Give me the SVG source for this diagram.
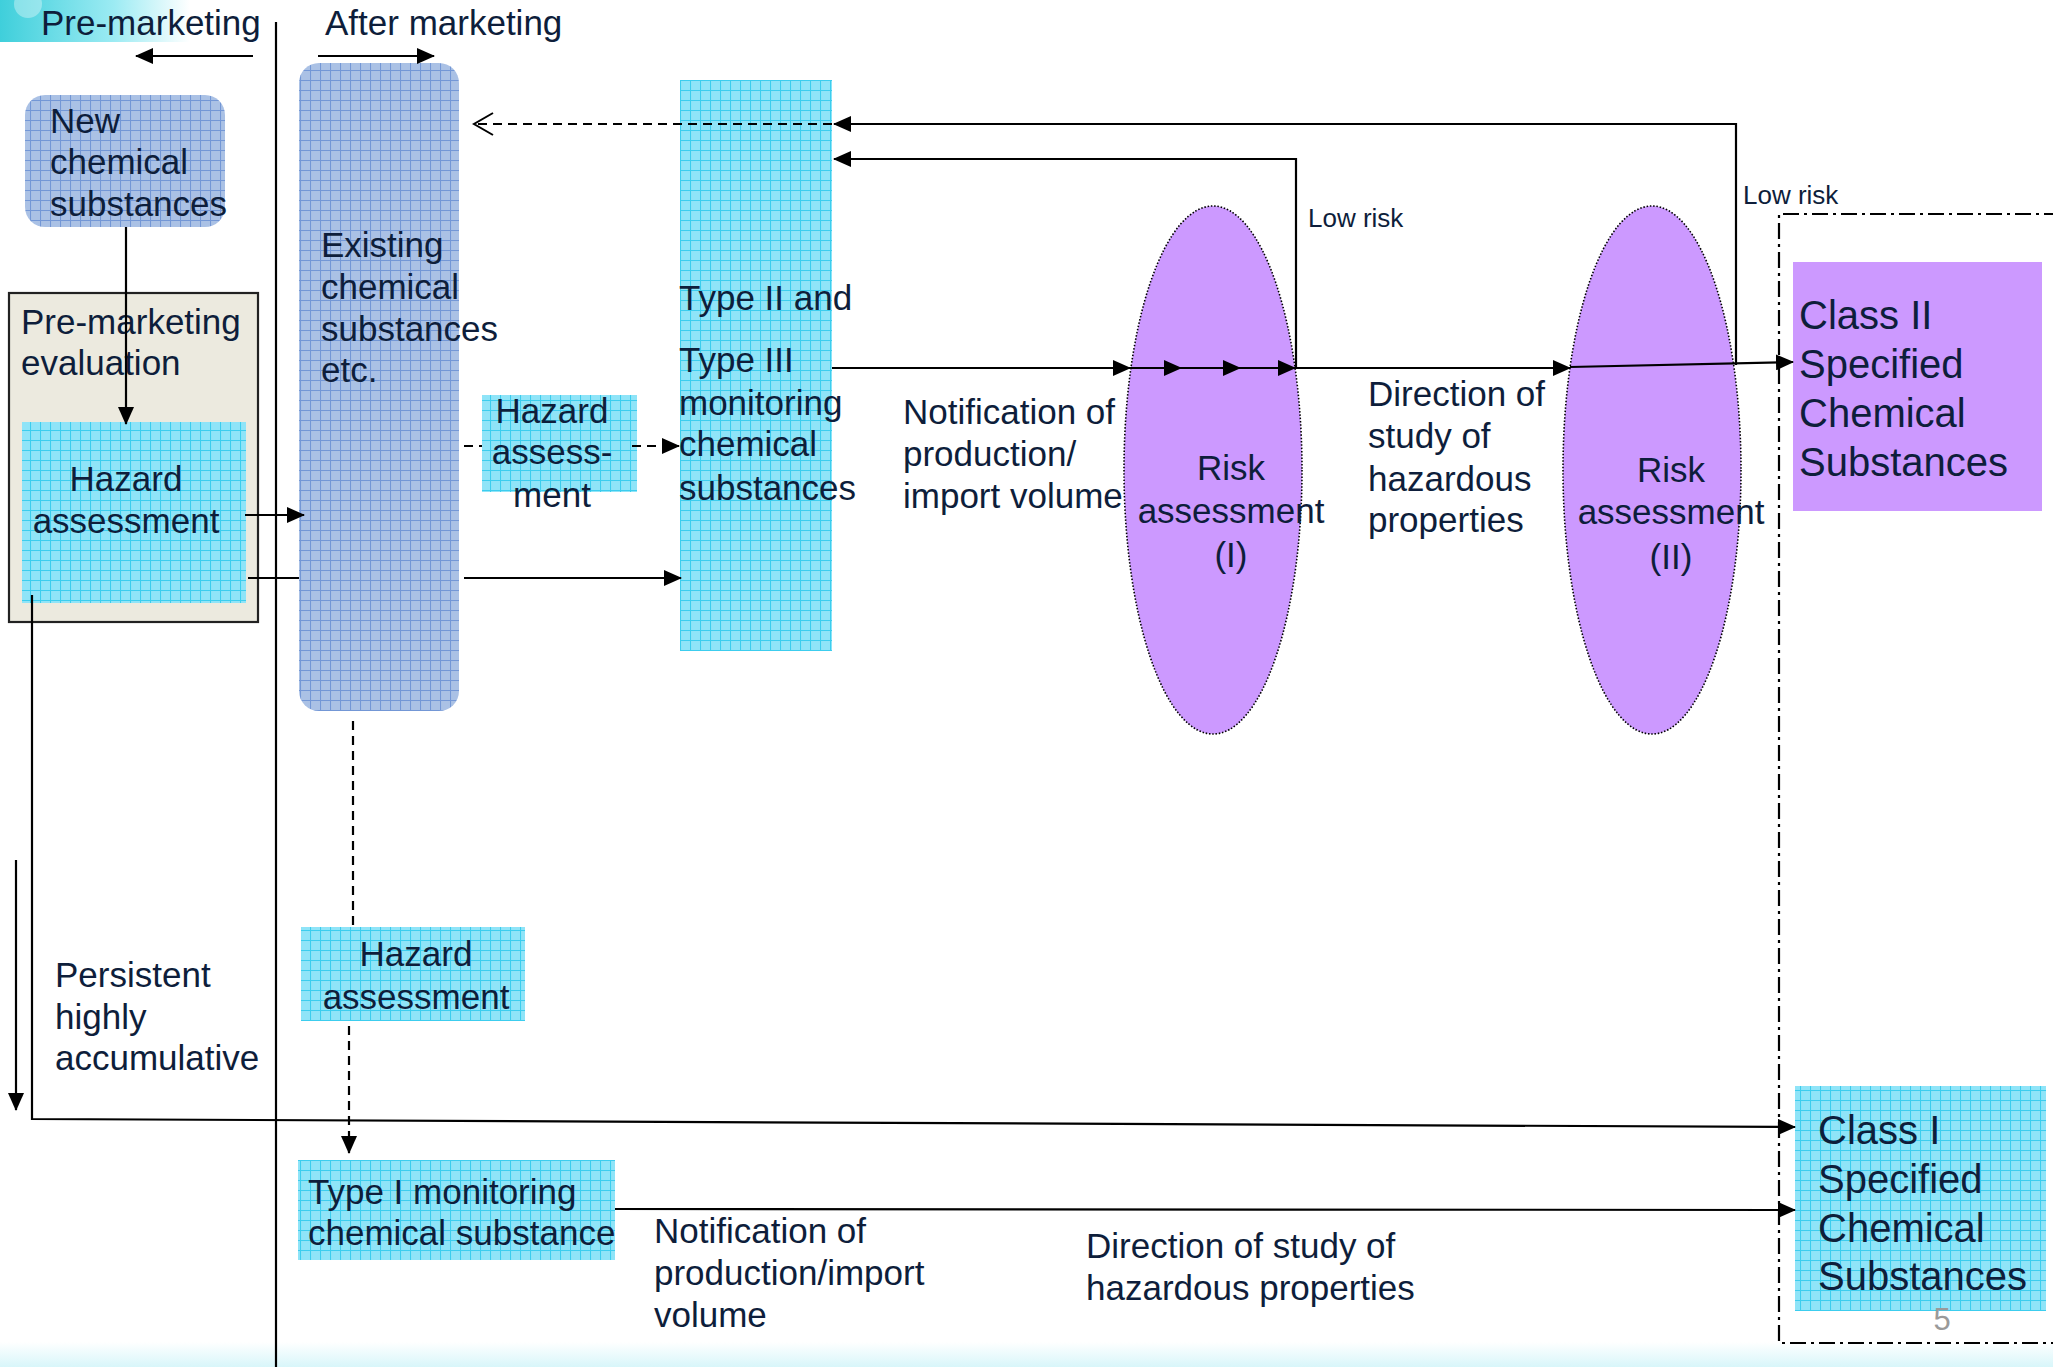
<svg xmlns="http://www.w3.org/2000/svg" width="2053" height="1367" viewBox="0 0 2053 1367">
<defs>
<style>
text{font-family:"Liberation Sans",Arial,sans-serif;fill:#0E1E3B;font-size:35px}
.sm{font-size:26px}
.lg{font-size:40px}
.ln{stroke:#000;stroke-width:2.2;fill:none}
.dash{stroke:#000;stroke-width:2.2;fill:none;stroke-dasharray:9 6}
.mid{text-anchor:middle}
</style>
<pattern id="gridBlue" width="10" height="10" patternUnits="userSpaceOnUse">
<rect width="10" height="10" fill="#AAC1E5"/>
<path d="M0 0.5H10M0.5 0V10" stroke="#7397D6" stroke-width="1.1"/>
</pattern>
<pattern id="gridCyan" width="10" height="10" patternUnits="userSpaceOnUse">
<rect width="10" height="10" fill="#8FE4F8"/>
<path d="M0 0.5H10M0.5 0V10" stroke="#3CCDEE" stroke-width="1.1"/>
</pattern>
<linearGradient id="banner" x1="0" y1="0" x2="1" y2="0">
<stop offset="0" stop-color="#3FCFDB"/>
<stop offset="0.6" stop-color="#9CEBF3"/>
<stop offset="1" stop-color="#FFFFFF"/>
</linearGradient>
<linearGradient id="bottom" x1="0" y1="0" x2="0" y2="1">
<stop offset="0" stop-color="#FFFFFF"/>
<stop offset="1" stop-color="#D8F6FA"/>
</linearGradient>
<marker id="arr" viewBox="0 0 18 16" refX="17" refY="8" markerWidth="18" markerHeight="16" markerUnits="userSpaceOnUse" orient="auto">
<path d="M0,0 L18,8 L0,16z" fill="#000"/>
</marker>
<marker id="open" viewBox="0 0 22 24" refX="20" refY="12" markerWidth="22" markerHeight="24" markerUnits="userSpaceOnUse" orient="auto">
<path d="M1,1 L20,12 L1,23" fill="none" stroke="#000" stroke-width="2"/>
</marker>
</defs>

<rect width="2053" height="1367" fill="#FFFFFF"/>
<rect x="0" y="0" width="190" height="42" fill="url(#banner)"/>
<circle cx="28" cy="4" r="14" fill="#FFFFFF" opacity="0.35"/>
<rect x="0" y="1342" width="2053" height="25" fill="url(#bottom)"/>

<g id="headers">
<text x="41" y="35">Pre-marketing</text>
<text x="325" y="35">After marketing</text>
<line class="ln" x1="276" y1="22" x2="276" y2="1367" stroke-width="2.5"/>
</g>

<g id="new-chemical">
<rect x="25" y="95" width="200" height="132" rx="20" fill="url(#gridBlue)"/>
<text x="50" y="133">New</text>
<text x="50" y="174">chemical</text>
<text x="50" y="216">substances</text>
</g>

<g id="premarketing-evaluation">
<rect x="9" y="293" width="249" height="329" fill="#ECEADF" stroke="#222" stroke-width="2.2"/>
<text x="21" y="334">Pre-marketing</text>
<text x="21" y="375">evaluation</text>
</g>

<g id="hazard-premarket">
<rect x="22" y="422" width="224" height="181" fill="url(#gridCyan)"/>
<text class="mid" x="126" y="491">Hazard</text>
<text class="mid" x="126" y="533">assessment</text>
</g>

<g id="existing">
<rect x="299" y="63" width="160" height="648" rx="20" fill="url(#gridBlue)"/>
<text x="321" y="257">Existing</text>
<text x="321" y="299">chemical</text>
<text x="321" y="341">substances</text>
<text x="321" y="382">etc.</text>
</g>

<g id="hazard-mid">
<rect x="482" y="395" width="155" height="97" fill="url(#gridCyan)"/>
<text class="mid" x="552" y="423">Hazard</text>
<text class="mid" x="552" y="464">assess-</text>
<text class="mid" x="552" y="507">ment</text>
</g>

<g id="type23">
<rect x="680" y="80" width="152" height="571" fill="url(#gridCyan)"/>
<text x="679" y="310">Type II and</text>
<text x="679" y="372">Type III</text>
<text x="679" y="415">monitoring</text>
<text x="679" y="456">chemical</text>
<text x="679" y="500">substances</text>
</g>

<g id="risk1">
<ellipse cx="1213" cy="470" rx="89" ry="264" fill="#CC99FF" stroke="#000" stroke-width="1.6" stroke-dasharray="1.5 1.8"/>
<text class="mid" x="1231" y="480">Risk</text>
<text class="mid" x="1231" y="523">assessment</text>
<text class="mid" x="1231" y="567">(I)</text>
</g>

<g id="risk2">
<ellipse cx="1652" cy="470" rx="89" ry="264" fill="#CC99FF" stroke="#000" stroke-width="1.6" stroke-dasharray="1.5 1.8"/>
<text class="mid" x="1671" y="482">Risk</text>
<text class="mid" x="1671" y="524">assessment</text>
<text class="mid" x="1671" y="569">(II)</text>
</g>

<g id="specified-frame">
<path d="M2060,214 H1779 V1343 H2060" fill="none" stroke="#000" stroke-width="2.2" stroke-dasharray="16 5 3 5"/>
</g>

<g id="class2">
<rect x="1793" y="262" width="249" height="249" fill="#CC99FF"/>
<text class="lg" x="1799" y="329">Class II</text>
<text class="lg" x="1799" y="378">Specified</text>
<text class="lg" x="1799" y="427">Chemical</text>
<text class="lg" x="1799" y="476">Substances</text>
</g>

<g id="hazard-low">
<rect x="301" y="927" width="224" height="94" fill="url(#gridCyan)"/>
<text class="mid" x="416" y="966">Hazard</text>
<text class="mid" x="416" y="1009">assessment</text>
</g>

<g id="type1">
<rect x="298" y="1160" width="317" height="100" fill="url(#gridCyan)"/>
<text x="308" y="1204">Type I monitoring</text>
<text x="308" y="1245">chemical substance</text>
</g>

<g id="class1">
<rect x="1795" y="1086" width="251" height="225" fill="url(#gridCyan)"/>
<text class="lg" x="1818" y="1144">Class I</text>
<text class="lg" x="1818" y="1193">Specified</text>
<text class="lg" x="1818" y="1242">Chemical</text>
<text class="lg" x="1818" y="1290">Substances</text>
</g>

<g id="labels">
<text x="903" y="424">Notification of</text>
<text x="903" y="466">production/</text>
<text x="903" y="508">import volume</text>
<text x="1368" y="406">Direction of</text>
<text x="1368" y="448">study of</text>
<text x="1368" y="491">hazardous</text>
<text x="1368" y="532">properties</text>
<text class="sm" x="1308" y="227">Low risk</text>
<text class="sm" x="1743" y="204">Low risk</text>
<text x="55" y="987">Persistent</text>
<text x="55" y="1029">highly</text>
<text x="55" y="1070">accumulative</text>
<text x="654" y="1243">Notification of</text>
<text x="654" y="1285">production/import</text>
<text x="654" y="1327">volume</text>
<text x="1086" y="1258">Direction of study of</text>
<text x="1086" y="1300">hazardous properties</text>
<text class="mid" x="1942" y="1330" style="fill:#9A9A9A;font-size:31px">5</text>
</g>

<g id="connectors">
<line class="ln" x1="253" y1="56" x2="136" y2="56" marker-end="url(#arr)"/>
<line class="ln" x1="318" y1="56" x2="434" y2="56" marker-end="url(#arr)"/>
<line class="ln" x1="126" y1="227" x2="126" y2="424" marker-end="url(#arr)"/>
<line class="ln" x1="245" y1="515" x2="304" y2="515" marker-end="url(#arr)"/>
<line class="ln" x1="248" y1="578" x2="299" y2="578"/>
<line class="ln" x1="464" y1="578" x2="681" y2="578" marker-end="url(#arr)"/>
<line class="dash" x1="464" y1="446" x2="482" y2="446"/>
<line class="dash" x1="632" y1="446" x2="679" y2="446" marker-end="url(#arr)"/>
<line class="ln" x1="832" y1="368" x2="1130" y2="368" marker-end="url(#arr)"/>
<line class="ln" x1="1130" y1="368" x2="1181" y2="368" marker-end="url(#arr)"/>
<line class="ln" x1="1181" y1="368" x2="1240" y2="368" marker-end="url(#arr)"/>
<line class="ln" x1="1240" y1="368" x2="1295" y2="368" marker-end="url(#arr)"/>
<line class="ln" x1="1295" y1="368" x2="1570" y2="368" marker-end="url(#arr)"/>
<line class="ln" x1="1570" y1="367" x2="1793" y2="362" marker-end="url(#arr)"/>
<polyline class="ln" points="1296,368 1296,159 834,159" marker-end="url(#arr)"/>
<polyline class="ln" points="1736,365 1736,124 834,124" marker-end="url(#arr)"/>
<line class="dash" x1="832" y1="124" x2="474" y2="124" marker-end="url(#open)"/>
<line class="dash" x1="353" y1="721" x2="353" y2="927"/>
<line class="dash" x1="349" y1="1026" x2="349" y2="1153" marker-end="url(#arr)"/>
<polyline class="ln" points="32,595 32,1119 1795,1127" marker-end="url(#arr)"/>
<line class="ln" x1="16" y1="860" x2="16" y2="1110" marker-end="url(#arr)"/>
<line class="ln" x1="615" y1="1209" x2="1795" y2="1210" marker-end="url(#arr)"/>
</g>
</svg>
